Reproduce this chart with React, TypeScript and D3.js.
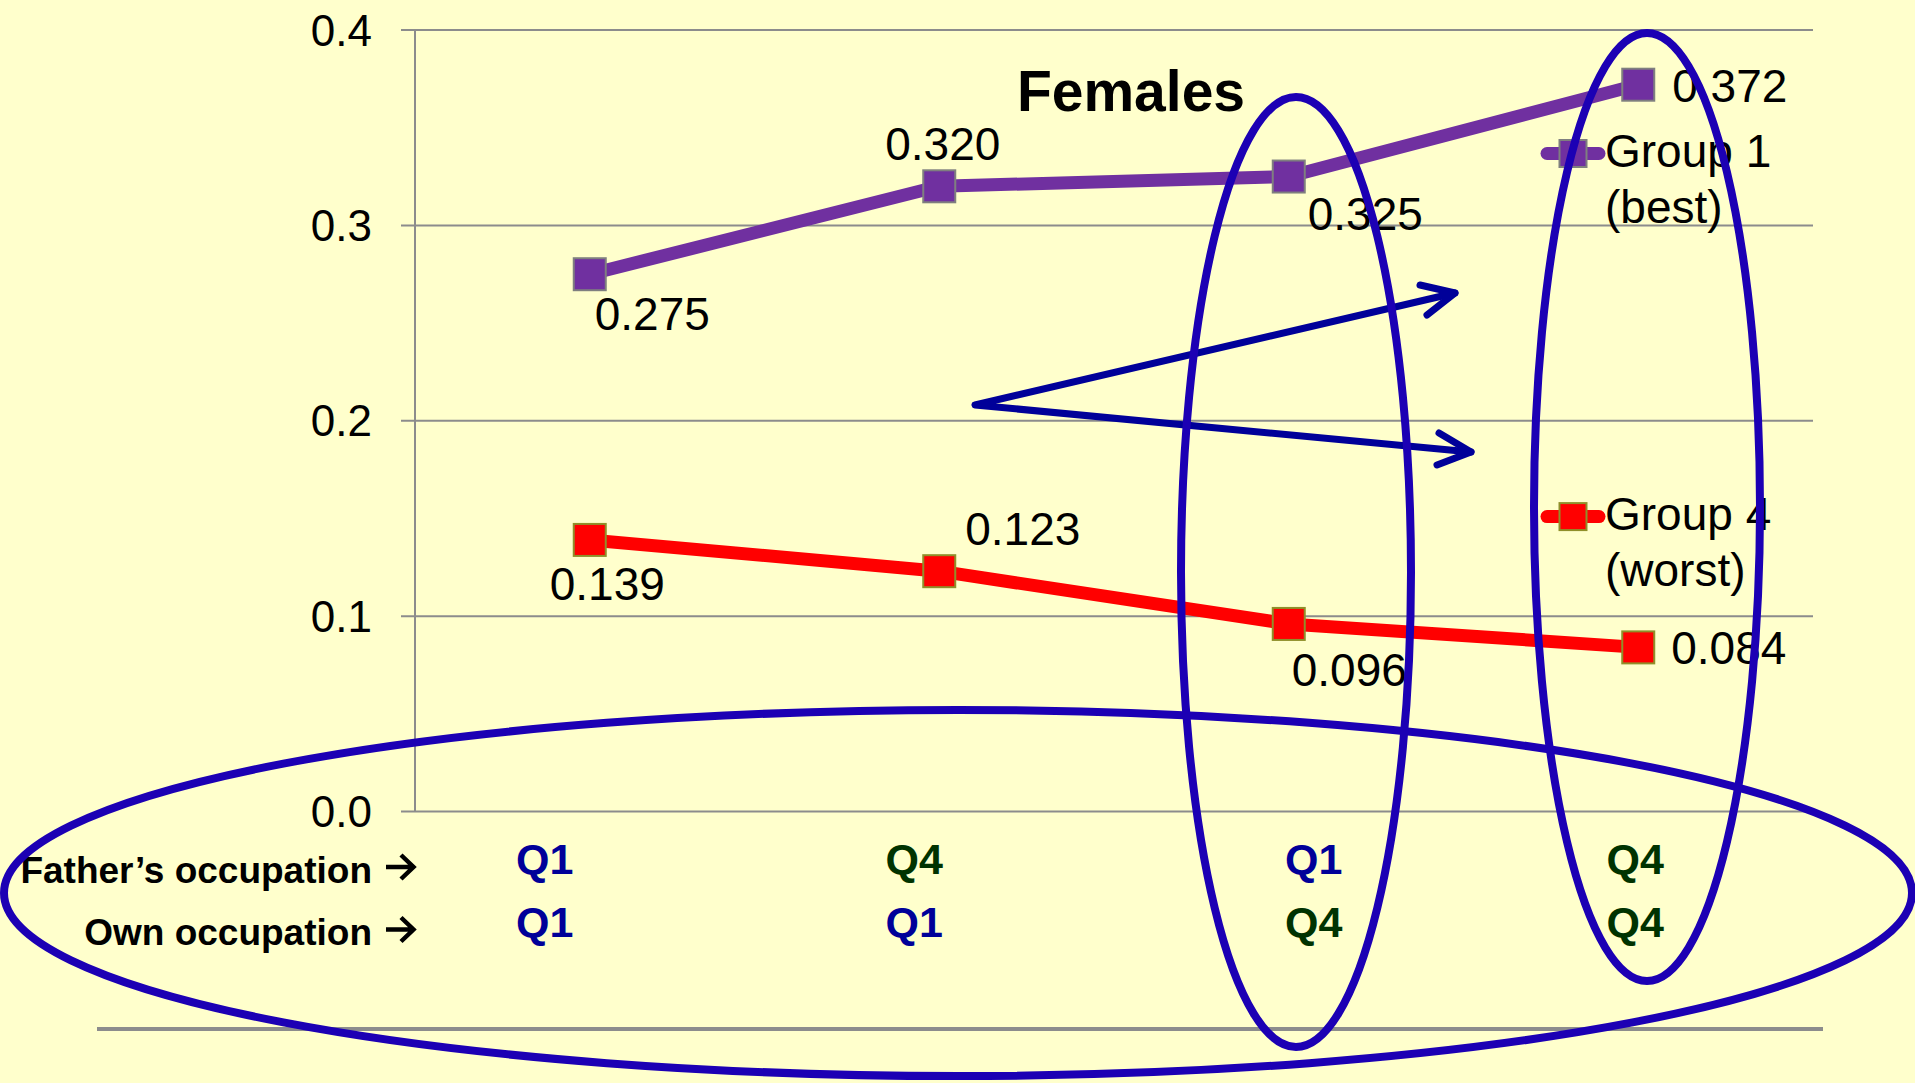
import React from "react";
import * as d3 from "d3";

// ---- data ----
const categories = ["Q1-Q1", "Q4-Q1", "Q1-Q4", "Q4-Q4"];
const fatherOcc = ["Q1", "Q4", "Q1", "Q4"];
const ownOcc = ["Q1", "Q1", "Q4", "Q4"];
const group1 = [0.275, 0.32, 0.325, 0.372];
const group4 = [0.139, 0.123, 0.096, 0.084];
const yTicks = [0, 0.1, 0.2, 0.3, 0.4];
const seriesNames = [
  ["Group 1", "(best)"],
  ["Group 4", "(worst)"],
];
const rowLabels = ["Father’s occupation", "Own occupation"];

// ---- layout / style ----
const W = 1915;
const H = 1083;
const FONT = "'Liberation Sans', Arial, Helvetica, sans-serif";
const BG = "#FFFFCC";
const GRID = "#8c8c8c";
const PURPLE = "#7030A0";
const RED = "#FF0000";
const ELLIPSE = "#1C00B4";
const ARROW = "#000099";
const QCOLORS: Record<string, string> = { Q1: "#000099", Q4: "#003300" };

// label offsets (text left, baseline) relative to the point
const g1LabelOff = [
  [5, 56],
  [-54, -26],
  [19, 53],
  [34, 17],
];
const g4LabelOff = [
  [-40, 60],
  [26, -26],
  [3, 62],
  [33, 16.5],
];
const catOff = [-45, -25, 25, -3];

export default function App() {
  const x = d3.scaleBand<string>().domain(categories).range([415, 1813]).padding(0);
  const cx = (c: string) => (x(c) as number) + x.bandwidth() / 2;
  const y = d3.scaleLinear().domain([0, 0.4]).range([811.5, 30]);
  const fmt = d3.format(".3f");
  const line = d3
    .line<number>()
    .x((_, i) => cx(categories[i]))
    .y((d) => y(d));

  const series = [
    { values: group1, color: PURPLE, border: "#7f7f7f", off: g1LabelOff, name: seriesNames[0], legendY: 153.5 },
    { values: group4, color: RED, border: "#8f8f2a", off: g4LabelOff, name: seriesNames[1], legendY: 516.6 },
  ];

  const M = 32; // marker size
  const LM = 27; // legend marker size

  return (
    <svg
      width={W}
      height={H}
      style={{ position: "fixed", left: 0, top: 0, background: BG }}
      fontFamily={FONT}
    >
      <rect x={0} y={0} width={W} height={H} fill={BG} />
      {/* gridlines */}
      {yTicks.map((t) => (
        <g key={t}>
          <line x1={401} x2={1813} y1={y(t)} y2={y(t)} stroke={GRID} strokeWidth={2} />
          <text x={372} y={y(t) + 15.5} textAnchor="end" fontSize={44} fill="#000">
            {d3.format(".1f")(t)}
          </text>
        </g>
      ))}
      <line x1={415} x2={415} y1={y(0.4)} y2={y(0)} stroke={GRID} strokeWidth={2} />

      {/* title */}
      <text x={1131} y={111} textAnchor="middle" fontSize={57} fontWeight="bold" fill="#000">
        Females
      </text>

      {/* series */}
      {series.map((s, si) => (
        <g key={si}>
          <path d={line(s.values) as string} fill="none" stroke={s.color} strokeWidth={13} strokeLinejoin="round" />
          {s.values.map((v, i) => (
            <rect
              key={i}
              x={cx(categories[i]) - M / 2}
              y={y(v) - M / 2}
              width={M}
              height={M}
              fill={s.color}
              stroke={s.border}
              strokeWidth={2}
            />
          ))}
          {s.values.map((v, i) => (
            <text
              key={"l" + i}
              x={cx(categories[i]) + s.off[i][0]}
              y={y(v) + s.off[i][1]}
              fontSize={46}
              fill="#000"
            >
              {fmt(v)}
            </text>
          ))}
          {/* legend */}
          <line x1={1547} x2={1599} y1={s.legendY} y2={s.legendY} stroke={s.color} strokeWidth={13} strokeLinecap="round" />
          <rect
            x={1573 - LM / 2}
            y={s.legendY - LM / 2}
            width={LM}
            height={LM}
            fill={s.color}
            stroke={s.border}
            strokeWidth={2}
          />
          <text x={1605} y={s.legendY + 13.5} fontSize={46} fill="#000">
            {s.name[0]}
          </text>
          <text x={1605} y={s.legendY + 69} fontSize={46} fill="#000">
            {s.name[1]}
          </text>
        </g>
      ))}

      {/* category labels */}
      {categories.map((c, i) => (
        <g key={c}>
          <text x={cx(c) + catOff[i]} y={874} textAnchor="middle" fontSize={43} fontWeight="bold" fill={QCOLORS[fatherOcc[i]]}>
            {fatherOcc[i]}
          </text>
          <text x={cx(c) + catOff[i]} y={937} textAnchor="middle" fontSize={43} fontWeight="bold" fill={QCOLORS[ownOcc[i]]}>
            {ownOcc[i]}
          </text>
        </g>
      ))}
      {rowLabels.map((r, i) => {
        const by = 882.5 + i * 62.5;
        return (
          <g key={r}>
            <text x={372} y={by} textAnchor="end" fontSize={37} fontWeight="bold" fill="#000">
              {r}
            </text>
            <path
              d={`M386,${by - 15.5} H413 M401,${by - 27.5} L413.5,${by - 15.5} L401,${by - 3.5}`}
              stroke="#000"
              strokeWidth={4.5}
              fill="none"
              strokeLinecap="butt"
              strokeLinejoin="miter"
            />
          </g>
        );
      })}

      {/* bottom rule */}
      <line x1={97} x2={1823} y1={1029} y2={1029} stroke={GRID} strokeWidth={4} />

      {/* arrows */}
      <g stroke={ARROW} strokeWidth={7} fill="none" strokeLinecap="round" strokeLinejoin="round">
        <polyline points="1455,293 975,405 1471,452" />
        <polyline points="1420,285 1455,293 1427,315" />
        <polyline points="1439,433 1471,452 1437,465" />
      </g>

      {/* ellipses */}
      <g stroke={ELLIPSE} strokeWidth={8} fill="none">
        <ellipse cx={958} cy={893} rx={954} ry={183} />
        <ellipse cx={1296} cy={572} rx={115} ry={475} />
        <ellipse cx={1647} cy={507} rx={113} ry={474} />
      </g>
    </svg>
  );
}
